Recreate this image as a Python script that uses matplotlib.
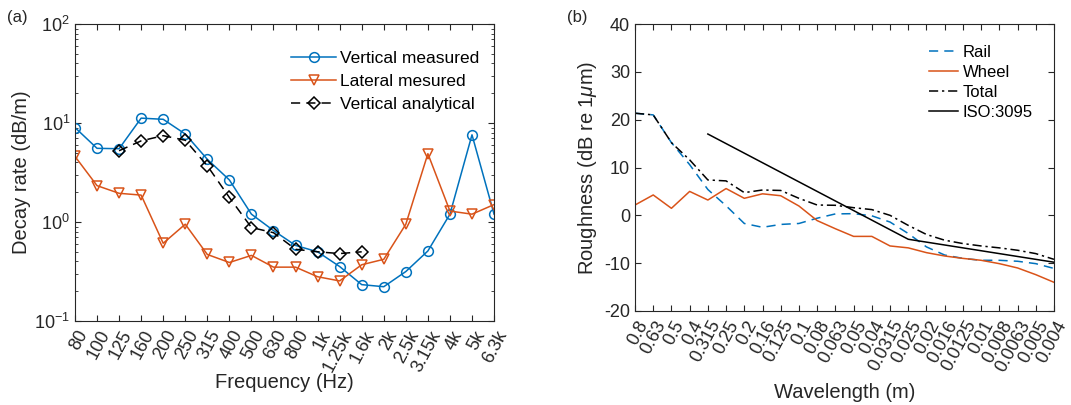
import numpy as np
import matplotlib
matplotlib.use("Agg")
from matplotlib import pyplot as plt
from matplotlib import transforms
from matplotlib.ticker import LogLocator, NullFormatter

plt.rcParams['font.family'] = ['Liberation Sans', 'DejaVu Sans']
plt.rcParams['mathtext.fontset'] = 'custom'
plt.rcParams['mathtext.rm'] = 'Liberation Sans'
plt.rcParams['mathtext.it'] = 'Liberation Sans:italic'
plt.rcParams['axes.unicode_minus'] = False

# (a) decay rates
freq_labels = ['80', '100', '125', '160', '200', '250', '315', '400', '500', '630',
               '800', '1k', '1.25k', '1.6k', '2k', '2.5k', '3.15k', '4k', '5k', '6.3k']
vert_meas = [9.0, 5.55, 5.5, 11.2, 10.9, 7.74, 4.3, 2.66, 1.2, 0.82,
             0.58, 0.50, 0.355, 0.233, 0.222, 0.316, 0.51, 1.2, 7.6, 1.2]
lat_meas = [4.6, 2.33, 1.95, 1.87, 0.61, 0.95, 0.47, 0.39, 0.46, 0.35,
            0.35, 0.28, 0.254, 0.37, 0.42, 0.95, 4.9, 1.29, 1.2, 1.5]
vert_anal_labels = ['125', '160', '200', '250', '315', '400', '500', '630',
                    '800', '1k', '1.25k', '1.6k']
vert_anal = [5.25, 6.6, 7.45, 6.7, 3.7, 1.77, 0.88, 0.78, 0.53, 0.50, 0.48, 0.50]

# (b) roughness spectra
wl_labels = ['0.8', '0.63', '0.5', '0.4', '0.315', '0.25', '0.2', '0.16', '0.125', '0.1',
             '0.08', '0.063', '0.05', '0.04', '0.0315', '0.025', '0.02', '0.016', '0.0125',
             '0.01', '0.008', '0.0063', '0.005', '0.004']
rail = [21.35, 21.0, 15.2, 10.6, 5.4, 2.0, -1.7, -2.5, -1.9, -1.7, -0.6, 0.3,
        0.35, -0.1, -1.4, -3.8, -6.6, -8.3, -9.0, -9.4, -9.4, -9.6, -10.1, -11.1]
wheel = [2.16, 4.26, 1.47, 5.0, 3.2, 5.6, 3.56, 4.5, 4.1, 1.95, -1.1, -2.8,
         -4.4, -4.4, -6.4, -6.8, -7.8, -8.5, -9.0, -9.4, -10.1, -11.0, -12.4, -14.0]
total = [21.35, 21.0, 15.2, 11.6, 7.4, 7.2, 4.75, 5.3, 5.2, 3.56, 2.16, 2.1,
         1.6, 1.2, 0.0, -2.1, -4.0, -5.2, -5.9, -6.4, -6.8, -7.3, -8.0, -9.2]
iso_labels = wl_labels[4:]
iso = [17, 15, 13, 11, 9, 7, 5, 3, 1, -1, -3, -5,
       -5.6, -6.2, -6.8, -7.4, -8.0, -8.6, -9.2, -9.8]

blue = '#0072BD'
orange = '#D95319'
txt = '#262626'

fig = plt.figure(figsize=(10.71, 4.05), dpi=100)
ax1 = fig.add_axes([0.0700, 0.2074, 0.3913, 0.7333])
ax2 = fig.add_axes([0.5929, 0.2321, 0.3912, 0.7086])

x1 = np.arange(len(freq_labels))
xa = [freq_labels.index(f) for f in vert_anal_labels]
ax1.plot(x1, vert_meas, '-o', color=blue, lw=1.1, ms=7, mfc='none', mew=1.1,
         label='Vertical measured')
ax1.plot(x1, lat_meas, '-v', color=orange, lw=1.1, ms=7.5, mfc='none', mew=1.1,
         label='Lateral mesured')
ax1.plot(xa, vert_anal, '--D', color='k', lw=1.1, ms=6, mfc='none', mew=1.1,
         dashes=(6, 4), label='Vertical analytical')
ax1.set_yscale('log')
ax1.set_ylim(0.1, 100)
ax1.set_xlim(0, len(freq_labels) - 1)
ax1.yaxis.set_major_locator(LogLocator(base=10, numticks=10))
ax1.yaxis.set_minor_locator(LogLocator(base=10, subs=np.arange(2, 10), numticks=10))
ax1.yaxis.set_minor_formatter(NullFormatter())
ax1.set_xticks(x1)
ax1.set_xticklabels(freq_labels, rotation=62, ha='right', va='center',
                    rotation_mode='anchor')
ax1.set_xlabel('Frequency (Hz)', fontsize=14.5, color=txt)
ax1.xaxis.set_label_coords(0.5, -0.175)
ax1.set_ylabel('Decay rate (dB/m)', fontsize=14.5, color=txt)
ax1.yaxis.set_label_coords(-0.104, 0.5)
ax1.legend(loc='upper right', bbox_to_anchor=(0.964, 0.91), frameon=False,
           fontsize=12.5, handlelength=2.6, handletextpad=0.2, borderaxespad=0,
           borderpad=0, labelspacing=0.45)
fig.text(0.007, 0.945, '(a)', fontsize=12, color=txt)

x2 = np.arange(len(wl_labels))
xi = [wl_labels.index(w) for w in iso_labels]
ax2.plot(x2, rail, '--', color=blue, lw=1.1, dashes=(6, 4), label='Rail')
ax2.plot(x2, wheel, '-', color=orange, lw=1.1, label='Wheel')
ax2.plot(x2, total, '-.', color='k', lw=1.1, dashes=(6, 2.5, 1.5, 2.5), label='Total')
ax2.plot(xi, iso, '-', color='k', lw=1.1, label='ISO:3095')
ax2.set_ylim(-20, 40)
ax2.set_yticks([-20, -10, 0, 10, 20, 30, 40])
ax2.set_xlim(0, len(wl_labels) - 1)
ax2.set_xticks(x2)
ax2.set_xticklabels(wl_labels, rotation=62, ha='right', va='center',
                    rotation_mode='anchor')
ax2.set_xlabel('Wavelength (m)', fontsize=14.5, color=txt)
ax2.xaxis.set_label_coords(0.5, -0.251)
ax2.set_ylabel(r'Roughness (dB re 1$\mu$m)', fontsize=14.5, color=txt)
ax2.yaxis.set_label_coords(-0.085, 0.5)
ax2.legend(loc='upper right', bbox_to_anchor=(0.95, 0.928), frameon=False,
           fontsize=12, handlelength=1.75, handletextpad=0.3, borderaxespad=0,
           borderpad=0, labelspacing=0.31)
fig.text(0.529, 0.945, '(b)', fontsize=12, color=txt)

# shift the rotated tick labels a bit right/down, like the original
shift = transforms.ScaledTranslation(9 / 100, -5 / 100, fig.dpi_scale_trans)
for ax in (ax1, ax2):
    ax.tick_params(which='both', direction='in', top=True, right=True,
                   labelsize=13, colors=txt)
    ax.tick_params(which='major', length=4)
    ax.tick_params(which='minor', length=2.5)
    ax.tick_params(axis='x', pad=4)
    for lab in ax.get_xticklabels():
        lab.set_transform(lab.get_transform() + shift)
    for s in ax.spines.values():
        s.set_color(txt)
        s.set_linewidth(0.8)

fig.savefig('out.png', dpi=100)
